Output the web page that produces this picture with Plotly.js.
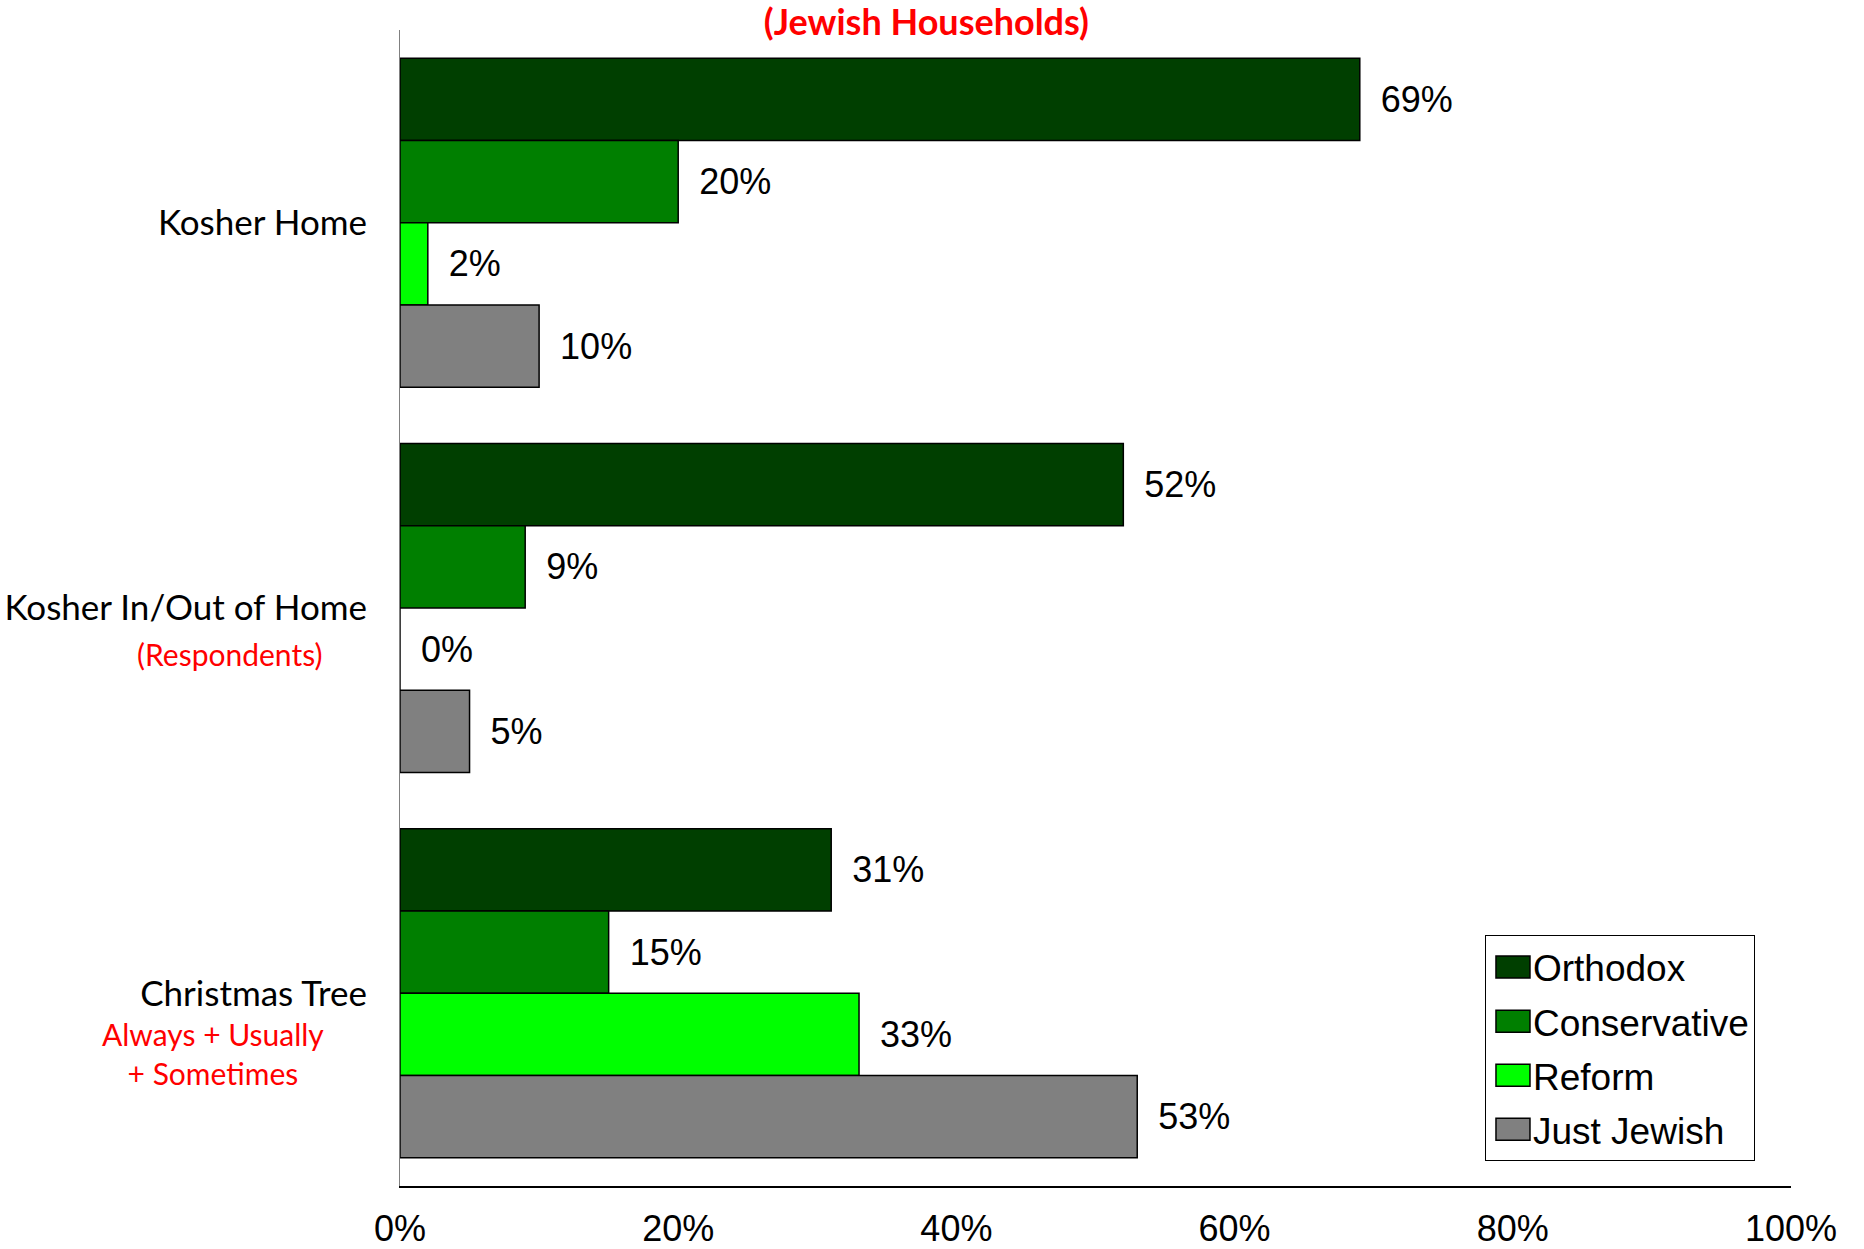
<!DOCTYPE html>
<html>
<head>
<meta charset="utf-8">
<script src="https://cdn.plot.ly/plotly-3.0.1.min.js"></script>
<style>html,body{margin:0;padding:0;background:#fff;}#chart{width:1864px;height:1249px;}</style>
</head>
<body>
<div id="chart"></div>
<script>
const categories = ["Kosher Home", "Kosher In/Out of Home", "Christmas Tree"];
const seriesNames = ["Orthodox", "Conservative", "Reform", "Just Jewish"];
const orthodox = [69, 52, 31];
const conservative = [20, 9, 15];
const reform = [2, 0, 33];
const justJewish = [10, 5, 53];
const xTicks = [0, 20, 40, 60, 80, 100];
const titleText = "(Jewish Households)";
const subLabels = ["(Respondents)", "Always + Usually<br>+ Sometimes"];
const subLabelCats = ["Kosher In/Out of Home", "Christmas Tree"];

const colors = ["#003f00", "#007f00", "#00ff00", "#808080"];
const allSeries = [orthodox, conservative, reform, justJewish];

const traces = allSeries.map((vals, i) => ({
  type: "bar",
  orientation: "h",
  name: seriesNames[i],
  legendgroup: "g" + i,
  y: categories,
  x: vals,
  marker: { color: colors[i], line: { color: "#000", width: 1.5 } },
  text: vals.map(v => v + "%"),
  texttemplate: "\u2002%{text}",
  textposition: "outside",
  textangle: 0,
  constraintext: "none",
  cliponaxis: false,
  textfont: { family: "Liberation Sans, Arial, sans-serif", size: 36, color: "#000" },
  hoverinfo: "skip"
}));

const layout = {
  width: 1864,
  height: 1249,
  paper_bgcolor: "#fff",
  plot_bgcolor: "#fff",
  margin: { l: 400, r: 73, t: 30, b: 63 },
  barmode: "group",
  bargap: 0.146,
  bargroupgap: 0,
  showlegend: true,
  title: {
    text: "<b>" + titleText + "</b>",
    font: { family: "Lato, sans-serif", size: 36, color: "#ff0000" },
    x: 0.497, xanchor: "center",
    y: 1 - 22 / 1249, yanchor: "middle", yref: "container"
  },
  xaxis: {
    range: [0, 100],
    tickvals: xTicks,
    ticktext: xTicks.map(v => v + "%"),
    showgrid: false,
    zeroline: false,
    showline: true,
    linecolor: "#000",
    linewidth: 2,
    ticks: "outside",
    ticklen: 10,
    tickcolor: "rgba(0,0,0,0)",
    tickfont: { family: "Liberation Sans, Arial, sans-serif", size: 36, color: "#000" },
    fixedrange: true
  },
  yaxis: {
    type: "category",
    autorange: "reversed",
    showgrid: false,
    zeroline: false,
    showline: true,
    linecolor: "#808080",
    linewidth: 1,
    ticks: "outside",
    ticklen: 25,
    tickcolor: "rgba(0,0,0,0)",
    tickfont: { family: "Lato, sans-serif", size: 35, color: "#000" },
    fixedrange: true
  },
  legend: {
    x: 0.780, xanchor: "left",
    y: 0.2167, yanchor: "top",
    bgcolor: "#fff",
    bordercolor: "#000",
    borderwidth: 1,
    traceorder: "grouped",
    tracegroupgap: 3,
    indentation: 7,
    font: { family: "Liberation Sans, Arial, sans-serif", size: 37, color: "#000" }
  },
  annotations: [
    {
      text: subLabels[0], xref: "paper", yref: "y",
      x: -0.122, y: subLabelCats[0], yshift: -46,
      xanchor: "center", yanchor: "middle", showarrow: false,
      font: { family: "Lato, sans-serif", size: 30, color: "#ff0000" }
    },
    {
      text: subLabels[1], xref: "paper", yref: "y",
      x: -0.1344, y: subLabelCats[1], yshift: -60,
      xanchor: "center", yanchor: "middle", showarrow: false,
      font: { family: "Lato, sans-serif", size: 30, color: "#ff0000" }
    }
  ]
};

Plotly.newPlot("chart", traces, layout, { staticPlot: true, displayModeBar: false }).then(() => {
  document.querySelectorAll("#chart .legend .legendpoints path").forEach(p => {
    p.setAttribute("d", "M-17,-11H17V11H-17Z");
  });
});
</script>
</body>
</html>
